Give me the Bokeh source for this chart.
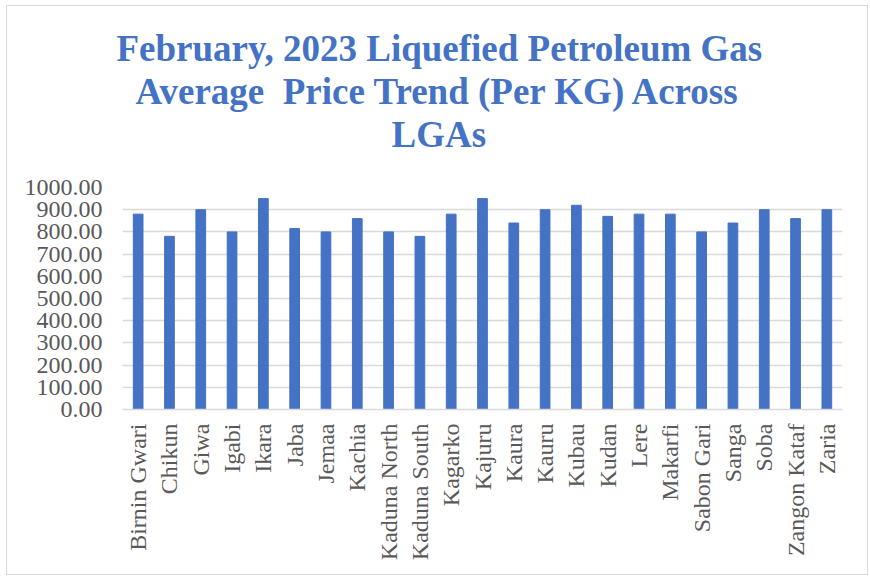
from bokeh.plotting import figure
from bokeh.models import FactorRange, Range1d, FixedTicker, NumeralTickFormatter, Title
from bokeh.embed import file_html
from bokeh.resources import INLINE
import math

lgas = ["Birnin Gwari", "Chikun", "Giwa", "Igabi", "Ikara", "Jaba", "Jemaa", "Kachia",
        "Kaduna North", "Kaduna South", "Kagarko", "Kajuru", "Kaura", "Kauru", "Kubau",
        "Kudan", "Lere", "Makarfi", "Sabon Gari", "Sanga", "Soba", "Zangon Kataf", "Zaria"]
prices = [880, 780, 900, 800, 950, 815, 800, 860, 800, 780, 880, 950, 840, 900, 920,
          870, 880, 880, 800, 840, 900, 860, 900]
y_ticks = [0, 100, 200, 300, 400, 500, 600, 700, 800, 900, 1000]

title_lines = ["February, 2023 Liquefied Petroleum Gas",
               "Average \u00a0Price Trend (Per KG) Across",
               "LGAs"]
title_offsets = [-6, 13, 269]  # pixel offsets from the plot area's left edge

BLUE = "#4472C4"
GRID = "#D9D9D9"
TXT = "#595959"
FONT = "Liberation Serif"

p = figure(width=862, height=570, output_backend="svg", toolbar_location=None,
           x_range=FactorRange(*lgas, range_padding=0), y_range=Range1d(0, 1000),
           min_border_left=115, min_border_right=27, min_border_bottom=167, min_border_top=181)

p.vbar(x=lgas, top=prices, width=0.31, color=BLUE)

# title lines: added from nearest the frame outward
p.title.visible = False
p.add_layout(Title(text=" ", text_font_size="28px", standoff=0, offset=0), "above")
for line, off in reversed(list(zip(title_lines, title_offsets))):
    t = Title(text=line, align="left", text_font=FONT, text_font_size="37px",
              text_font_style="bold", text_color=BLUE, standoff=0, offset=off)
    p.add_layout(t, "above")

p.outline_line_color = None
p.background_fill_color = "white"
p.border_fill_color = "white"
p.styles = {"margin": "5px 0 0 6px", "border": "1px solid #D9D9D9"}

p.xgrid.grid_line_color = None
p.ygrid.grid_line_color = GRID
p.ygrid.grid_line_width = 1.5
p.yaxis.ticker = FixedTicker(ticks=y_ticks)
p.yaxis.formatter = NumeralTickFormatter(format="0.00")
p.yaxis.axis_line_color = None
p.yaxis.major_tick_line_color = None
p.yaxis.minor_tick_line_color = None
p.yaxis.major_tick_out = 0
p.yaxis.major_tick_in = 0
p.yaxis.major_label_standoff = 20
p.yaxis.major_label_text_font = FONT
p.yaxis.major_label_text_font_size = "24px"
p.yaxis.major_label_text_color = TXT

p.xaxis.axis_line_color = GRID
p.xaxis.axis_line_width = 1.5
p.xaxis.major_tick_line_color = None
p.xaxis.minor_tick_line_color = None
p.xaxis.major_tick_out = 0
p.xaxis.major_tick_in = 0
p.xaxis.major_label_orientation = math.pi / 2
p.xaxis.major_label_standoff = 14
p.xaxis.major_label_text_font = FONT
p.xaxis.major_label_text_font_size = "24px"
p.xaxis.major_label_text_color = TXT

open("out.html", "w").write(file_html(p, INLINE))
